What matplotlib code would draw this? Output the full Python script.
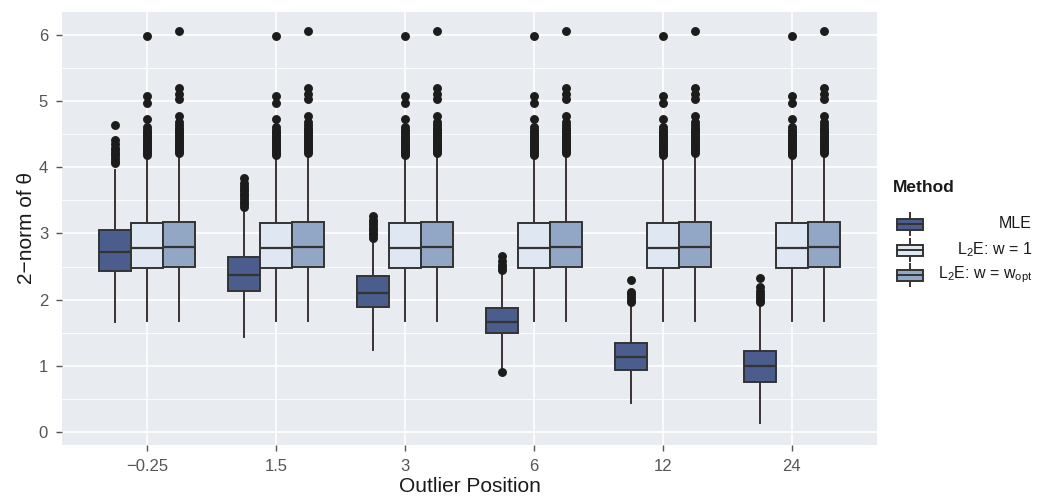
import matplotlib.pyplot as plt
from matplotlib.patches import Rectangle
from matplotlib.lines import Line2D

plt.rcParams['font.family'] = ['Liberation Sans', 'DejaVu Sans']
plt.rcParams['mathtext.default'] = 'regular'

positions = ['\u22120.25', '1.5', '3', '6', '12', '24']
methods = ['MLE', 'L$_2$E: w = 1', 'L$_2$E: w = w$_{opt}$']
fills = ['#4a5d8d', '#dfe7f3', '#92a6c5']

# MLE summaries, one entry per outlier position
mle_q1 = [2.43, 2.13, 1.89, 1.50, 0.94, 0.76]
mle_med = [2.72, 2.37, 2.10, 1.66, 1.13, 1.00]
mle_q3 = [3.05, 2.64, 2.36, 1.87, 1.34, 1.22]
mle_lo = [1.66, 1.43, 1.24, 0.97, 0.43, 0.13]
mle_hi = [3.96, 3.36, 2.90, 2.42, 1.93, 1.93]
mle_out = [
    [4.06, 4.1, 4.14, 4.18, 4.22, 4.26, 4.3, 4.35, 4.41, 4.64],
    [3.4, 3.44, 3.48, 3.52, 3.56, 3.6, 3.64, 3.68, 3.72, 3.77, 3.84],
    [2.93, 2.97, 3.01, 3.05, 3.09, 3.13, 3.17, 3.21, 3.26],
    [0.9, 2.45, 2.49, 2.53, 2.58, 2.66],
    [1.96, 2.0, 2.04, 2.08, 2.12, 2.29],
    [1.96, 2.0, 2.04, 2.08, 2.13, 2.19, 2.33],
]

# L2E fits do not move with the outlier position: one summary each
l2e_q1 = [2.48, 2.49]
l2e_med = [2.78, 2.80]
l2e_q3 = [3.16, 3.17]
l2e_lo = [1.68, 1.68]
l2e_hi = [4.15, 4.18]
l2e_out = [
    [4.18, 4.21, 4.24, 4.27, 4.3, 4.33, 4.36, 4.39, 4.42, 4.45, 4.48,
     4.51, 4.54, 4.57, 4.61, 4.73, 4.98, 5.08, 5.98],
    [4.21, 4.24, 4.27, 4.3, 4.33, 4.36, 4.39, 4.42, 4.45, 4.48, 4.51,
     4.54, 4.57, 4.6, 4.64, 4.68, 4.78, 5.03, 5.11, 5.2, 6.06],
]

W, H = 1048, 503
fig = plt.figure(figsize=(W / 100, H / 100), dpi=100)
ax = fig.add_axes([62 / W, 58 / H, 815 / W, 433 / H])
ax.set_facecolor('#e8ebf0')
for s in ax.spines.values():
    s.set_visible(False)

def stats_for(q1, med, q3, lo, hi, out):
    return dict(q1=q1, med=med, q3=q3, whislo=lo, whishi=hi, fliers=out)

offsets = [-0.25, 0.0, 0.25]
for m in range(3):
    if m == 0:
        st = [stats_for(mle_q1[i], mle_med[i], mle_q3[i], mle_lo[i], mle_hi[i], mle_out[i])
              for i in range(len(positions))]
    else:
        k = m - 1
        st = [stats_for(l2e_q1[k], l2e_med[k], l2e_q3[k], l2e_lo[k], l2e_hi[k], l2e_out[k])
              for i in range(len(positions))]
    xs = [i + 1 + offsets[m] for i in range(len(positions))]
    ax.bxp(st, positions=xs, widths=0.25, patch_artist=True, showcaps=False,
           boxprops=dict(facecolor=fills[m], edgecolor='#333333', linewidth=1.4),
           medianprops=dict(color='#333333', linewidth=1.6),
           whiskerprops=dict(color='#3a3232', linewidth=1.4),
           flierprops=dict(marker='o', markerfacecolor='#1c1c1c',
                           markeredgecolor='#1c1c1c', markersize=5.4),
           zorder=3)

ax.set_xticks(range(1, len(positions) + 1))
ax.set_xticklabels(positions)
ax.set_yticks(range(0, 7))
ax.set_yticks([y + 0.5 for y in range(0, 6)], minor=True)
# limits after the ticks, so the tick setters cannot widen them
ax.set_xlim(0.34, 6.66)
ax.set_ylim(-0.2, 6.35)
ax.grid(True, which='major', color='white', linewidth=1.2, zorder=0)
ax.grid(True, which='minor', axis='y', color='white', linewidth=0.6, zorder=0)
ax.set_axisbelow(True)
ax.tick_params(axis='both', which='major', length=4, width=1, color='#555555',
               labelcolor='#555555', labelsize=12)
ax.tick_params(axis='x', which='major', pad=6)
ax.tick_params(axis='y', which='major', pad=6)
ax.tick_params(axis='both', which='minor', length=0)
ax.set_xlabel('Outlier Position', fontsize=15, color='#1a1a1a', labelpad=2)
ax.set_ylabel('2\u2212norm of \u03b8', fontsize=15, color='#1a1a1a', labelpad=2)

# legend drawn in pixel coordinates
lg = fig.add_axes([0, 0, 1, 1], zorder=5)
lg.set_xlim(0, W)
lg.set_ylim(H, 0)
lg.axis('off')
lg.text(893, 188, 'Method', fontsize=12.5, fontweight='bold', color='#1a1a1a',
        va='center', ha='left')
key_y = [224, 250, 275]
for m in range(3):
    cy = key_y[m]
    lg.add_line(Line2D([910, 910], [cy - 11, cy + 11], color='#3a3232', lw=1.4))
    lg.add_patch(Rectangle((897, cy - 5.5), 26, 11, facecolor=fills[m],
                           edgecolor='#333333', lw=1.4, zorder=3))
    lg.add_line(Line2D([897, 923], [cy, cy], color='#333333', lw=1.4, zorder=4))
    lg.text(1032, cy, methods[m], fontsize=11.5, color='#1a1a1a',
            va='center', ha='right')

fig.savefig('out.png', dpi=100)
